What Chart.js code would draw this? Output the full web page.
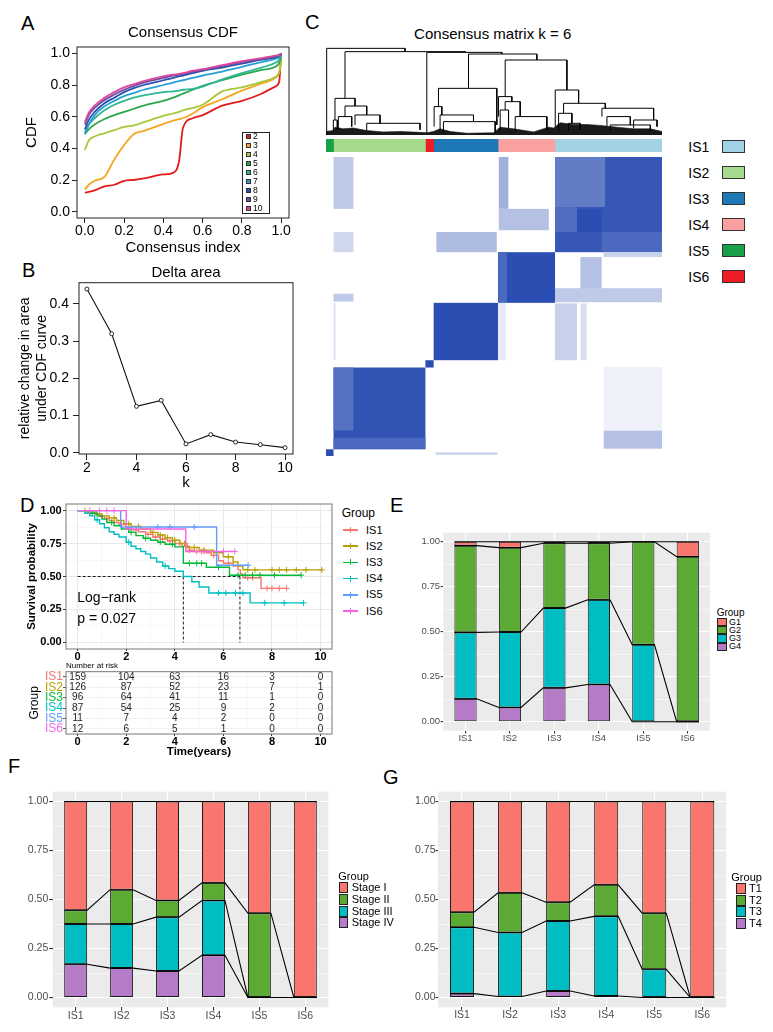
<!DOCTYPE html>
<html>
<head>
<meta charset="utf-8">
<script src="https://cdn.jsdelivr.net/npm/chart.js@4.4.1/dist/chart.umd.min.js"></script>
<style>
body{margin:0;background:#fff;width:773px;height:1032px;position:relative;overflow:hidden;font-family:"Liberation Sans",Arial,sans-serif;}
canvas{position:absolute;}
.t{position:absolute;white-space:nowrap;line-height:1;color:#000;}
.k{position:absolute;box-sizing:border-box;}
</style>
</head>
<body>
<script>
/* ---------- data ---------- */

// A: consensus CDF
const cdfIndex = [0,0.02,0.05,0.1,0.15,0.2,0.25,0.3,0.4,0.45,0.48,0.5,0.55,0.6,0.7,0.8,0.9,0.97,0.99,1];
const cdfK = ['2','3','4','5','6','7','8','9','10'];
const cdfColors = ['#E41A1C','#F5A623','#A6C93A','#2EA84A','#2DB894','#2A9FD6','#2B50B0','#6B4C9E','#E0459C'];
const cdfK2 = [0.12,0.125,0.135,0.16,0.17,0.195,0.2,0.21,0.235,0.245,0.32,0.53,0.59,0.61,0.67,0.70,0.745,0.79,0.82,1.0];
const cdfK3 = [0.14,0.17,0.195,0.22,0.33,0.42,0.49,0.51,0.555,0.575,0.585,0.59,0.62,0.66,0.71,0.765,0.81,0.845,0.88,0.97];
const cdfK4 = [0.39,0.45,0.475,0.495,0.515,0.535,0.545,0.565,0.605,0.62,0.63,0.64,0.655,0.675,0.76,0.785,0.82,0.85,0.88,0.96];
const cdfK5 = [0.49,0.52,0.55,0.585,0.61,0.63,0.65,0.67,0.70,0.72,0.735,0.745,0.77,0.795,0.83,0.865,0.895,0.915,0.94,0.98];
const cdfK6 = [0.50,0.55,0.59,0.64,0.675,0.70,0.72,0.735,0.755,0.76,0.765,0.77,0.775,0.79,0.835,0.875,0.91,0.94,0.96,0.99];
const cdfK7 = [0.49,0.55,0.61,0.665,0.70,0.73,0.75,0.77,0.80,0.815,0.825,0.83,0.845,0.86,0.885,0.915,0.945,0.965,0.975,0.99];
const cdfK8 = [0.52,0.58,0.63,0.685,0.72,0.755,0.78,0.80,0.83,0.845,0.855,0.86,0.875,0.89,0.91,0.935,0.96,0.975,0.985,0.995];
const cdfK9 = [0.55,0.61,0.655,0.705,0.74,0.77,0.795,0.815,0.845,0.86,0.865,0.87,0.885,0.895,0.92,0.945,0.965,0.98,0.99,1.0];
const cdfK10 = [0.565,0.625,0.67,0.72,0.755,0.785,0.805,0.825,0.855,0.865,0.87,0.875,0.89,0.90,0.925,0.95,0.97,0.985,0.99,1.0];
const cdfValues = [cdfK2,cdfK3,cdfK4,cdfK5,cdfK6,cdfK7,cdfK8,cdfK9,cdfK10];
const cdfTicks = [0,0.2,0.4,0.6,0.8,1.0];

// B: delta area
const deltaK = [2,3,4,5,6,7,8,9,10];
const deltaArea = [0.44,0.32,0.125,0.141,0.024,0.049,0.029,0.022,0.014];
const deltaXTicks = [2,4,6,8,10];
const deltaYTicks = [0,0.1,0.2,0.3,0.4];

// C: consensus matrix (sample index units, columns left to right, rows from bottom)
const icGroups = ['IS5','IS2','IS6','IS3','IS4','IS1'];
const icSizes = [11,134,12,94,83,156];
const icColors = ['#18A04A','#A6DA8C','#EE1C24','#1F78B6','#F9A0A0','#A3D2E6'];
const legendGroups = ['IS1','IS2','IS3','IS4','IS5','IS6'];
const legendColors = ['#A3D2E6','#A6DA8C','#1F78B6','#F9A0A0','#18A04A','#EE1C24'];
// [x0, x1, y0, y1, consensus]
const heatCells = [
  [0,11,0,11,1],[11,145,11,145,0.97],[11,40,42,145,0.8],[11,145,12,30,0.85],
  [145,157,145,157,1],[157,251,157,251,1],[251,334,251,334,1],[252,264,251,334,0.85],
  [334,490,334,490,0.95],[334,407,408,490,0.74],[334,366,367,408,0.82],[366,402,367,405,1],
  [402,490,334,367,0.85],
  [11,40,405,490,0.3],[11,40,334,367,0.22],[252,266,405,490,0.45],[252,325,370,405,0.35],
  [161,249,334,367,0.38],[371,402,266,326,0.35],[334,490,252,275,0.3],[405,490,326,334,0.25],
  [334,366,157,250,0.26],[371,380,157,250,0.18],[405,490,12,42,0.35],[405,490,42,146,0.08],
  [11,40,253,266,0.3],[252,262,157,251,0.12],[11,14,157,251,0.15],[160,250,2,6,0.25]
];
// dendrogram merges: [xLeft, xRight, height, leftChildHeight, rightChildHeight]
const dendroMerges = [
  [1.0,115.3,0.996,0,0.958],[27.7,202.9,0.958,0.421,0.950],[147,256.4,0.950,0.019,0.931],
  [207.8,307.5,0.931,0.536,0.862],[261.3,351.3,0.862,0.441,0.517],
  [13.1,42.3,0.421,0.172,0.333],[27.7,59.4,0.333,0.211,0.23],[18,37.5,0.211,0.077,0.096],
  [42.3,78.8,0.23,0.115,0.134],[59.4,137.2,0.134,0.05,0.06],[10.7,16.5,0.172,0.038,0.057],
  [164,249.1,0.536,0.326,0.115],[157.7,168.9,0.326,0.096,0.23],[166.4,215.1,0.23,0.057,0.153],
  [171.3,246.7,0.153,0.038,0.038],
  [251.6,271,0.441,0.211,0.383],[261.3,283.2,0.383,0.287,0.211],[254,266.2,0.287,0.057,0.077],
  [275.9,322.1,0.211,0.038,0.057],
  [334.3,368.4,0.517,0.096,0.364],[346.5,407.3,0.364,0.249,0.307],[402.4,477.8,0.307,0.211,0.172],
  [339.2,358.6,0.249,0.05,0.134],[353.7,370.8,0.134,0.05,0.057],[409.7,443.8,0.211,0.096,0.115],
  [448.6,482.7,0.172,0.077,0.096],[414.6,473,0.115,0.05,0.05]
];
const fringeX = [0,10.7,13.1,25.3,39.9,59.4,83.7,108,137.2,147,156.7,166.4,181,205.3,244.3,254,273.5,302.7,324.6,331.9,341.6,361,380.5,400,424.3,448.6,473,490];
const fringeH = [0.04,0.05,0.09,0.07,0.08,0.05,0.035,0.04,0.03,0.025,0.04,0.07,0.04,0.02,0.025,0.09,0.07,0.035,0.09,0.08,0.14,0.12,0.12,0.11,0.09,0.07,0.07,0.04];

// D: Kaplan-Meier
const kmGroups = ['IS1','IS2','IS3','IS4','IS5','IS6'];
const kmColors = ['#F8766D','#B79F00','#00BA38','#00BFC4','#619CFF','#F564E3'];
const is1Time = [0,0.3,0.5,0.7,0.9,1.1,1.3,1.5,1.7,2.0,2.2,2.5,2.8,3.1,3.4,3.7,4.0,4.3,4.6,4.8,5.3,5.5,5.8,6.0,6.4,6.6,6.7,6.8,7.55,8.6];
const is1Surv = [1,0.99,0.98,0.97,0.955,0.94,0.925,0.91,0.895,0.87,0.855,0.84,0.82,0.80,0.785,0.77,0.75,0.73,0.70,0.69,0.68,0.66,0.62,0.60,0.58,0.55,0.52,0.49,0.41,0.41];
const is2Time = [0,0.4,0.8,1.0,1.3,1.6,1.9,2.2,2.6,3.0,3.3,3.6,3.9,4.2,4.5,5.0,5.6,6.0,6.4,6.6,6.8,10.05];
const is2Surv = [1,0.99,0.975,0.96,0.945,0.925,0.90,0.88,0.86,0.835,0.815,0.795,0.775,0.75,0.72,0.70,0.68,0.65,0.61,0.58,0.55,0.55];
const is3Time = [0,0.5,0.8,1.0,1.2,1.5,1.8,2.1,2.4,2.7,3.0,3.3,3.6,4.0,4.35,5.3,6.25,9.2];
const is3Surv = [1,0.98,0.96,0.935,0.91,0.885,0.86,0.835,0.81,0.79,0.775,0.76,0.745,0.725,0.60,0.57,0.51,0.51];
const is4Time = [0,0.3,0.5,0.7,0.9,1.1,1.3,1.5,1.7,2.0,2.2,2.4,2.6,2.8,3.0,3.25,3.5,3.75,4.0,4.35,4.7,5.0,5.4,7.1,9.3];
const is4Surv = [1,0.98,0.96,0.93,0.90,0.87,0.84,0.82,0.80,0.76,0.73,0.71,0.69,0.67,0.64,0.61,0.58,0.56,0.54,0.50,0.46,0.42,0.375,0.30,0.30];
const is5Time = [0,1.77,5.72,7.02];
const is5Surv = [1,0.875,0.585,0.585];
const is6Time = [0,2.0,4.45,6.47];
const is6Surv = [1,0.86,0.69,0.69];
const kmTimes = [is1Time,is2Time,is3Time,is4Time,is5Time,is6Time];
const kmSurv = [is1Surv,is2Surv,is3Surv,is4Surv,is5Surv,is6Surv];
const censorTimes = [
  [0.5,1.2,1.8,2.4,2.9,3.2,3.5,3.8,4.2,4.6,4.9,5.1,5.6,6.2,7.0,7.2,7.8,8.0,8.3,8.6],
  [0.3,0.9,1.5,2.1,2.5,3.1,3.4,3.7,4.0,4.4,4.8,5.2,6.2,7.0,7.3,8.0,8.3,8.6,9.0,9.4,10.05],
  [0.6,1.4,2.2,2.8,3.4,3.9,4.6,4.9,5.1,5.8,6.6,6.9,7.2,7.5,8.1,9.2],
  [0.8,2.1,3.6,5.8,6.1,6.5,6.8,7.7,8.5,9.3],
  [3.3,3.8,4.8,7.02],
  [0.5,0.9,1.2,1.5,5.2,6.0,6.47]
];
const medianTimes = [4.35,6.68];
const kmXTicks = [0,1,2,3,4,5,6,7,8,9,10];
const kmYTicks = [0,0.125,0.25,0.375,0.5,0.625,0.75,0.875,1];
const riskTimes = [0,2,4,6,8,10];
const riskCounts = [
  [159,104,63,16,3,0],
  [126,87,52,23,7,1],
  [96,64,41,11,1,0],
  [87,54,25,9,2,0],
  [11,7,4,2,0,0],
  [12,6,5,1,0,0]
];

// E, F, G: composition bars (series listed bottom to top)
const barCats = ['IS1','IS2','IS3','IS4','IS5','IS6'];
const eNames = ['G4','G3','G2','G1'];
const eG4 = [0.127,0.079,0.188,0.207,0,0];
const eG3 = [0.369,0.419,0.443,0.470,0.428,0];
const eG2 = [0.482,0.469,0.360,0.314,0.572,0.917];
const eG1 = [0.022,0.033,0.009,0.009,0,0.083];
const fNames = ['Stage IV','Stage III','Stage II','Stage I'];
const fS4 = [0.17,0.15,0.135,0.215,0,0];
const fS3 = [0.205,0.225,0.275,0.28,0,0];
const fS2 = [0.07,0.175,0.085,0.09,0.43,0];
const fS1 = [0.555,0.45,0.505,0.415,0.57,1.0];
const gNames = ['T4','T3','T2','T1'];
const gT4 = [0.02,0.005,0.033,0.008,0,0];
const gT3 = [0.338,0.327,0.357,0.406,0.144,0];
const gT2 = [0.077,0.202,0.096,0.161,0.286,0];
const gT1 = [0.565,0.466,0.514,0.425,0.57,1.0];
const stackColors = ['#B57BC6','#00BDC4','#5AAA33','#F8766D'];
const propTicks = [0,0.125,0.25,0.375,0.5,0.625,0.75,0.875,1];

/* ---------- helpers ---------- */
const FONT = '"Liberation Sans", Arial, sans-serif';
Chart.defaults.font.family = FONT;
Chart.defaults.color = '#000';
Chart.defaults.animation = false;
Chart.defaults.events = [];
Chart.defaults.plugins.legend.display = false;
Chart.defaults.plugins.tooltip.enabled = false;

function addCanvas(left, top, w, h){
  const c = document.createElement('canvas');
  c.width = w; c.height = h;
  c.style.left = left + 'px'; c.style.top = top + 'px';
  c.style.width = w + 'px'; c.style.height = h + 'px';
  document.body.appendChild(c);
  return c;
}
function addText(txt, x, cy, size, extra){
  const d = document.createElement('div');
  d.className = 't';
  d.textContent = txt;
  d.style.fontSize = size + 'px';
  d.style.left = x + 'px';
  d.style.top = (cy - size/2) + 'px';
  d.style.height = size + 'px';
  if(extra) Object.assign(d.style, extra);
  document.body.appendChild(d);
  return d;
}
function addBox(x, y, w, h, color, border){
  const d = document.createElement('div');
  d.className = 'k';
  d.style.left = x + 'px'; d.style.top = y + 'px';
  d.style.width = w + 'px'; d.style.height = h + 'px';
  d.style.background = color;
  if(border) d.style.border = border;
  document.body.appendChild(d);
  return d;
}
function fixSize(px){
  return function(s){
    if(s.isHorizontal()) s.height = px; else s.width = px;
    s.paddingLeft = 0; s.paddingRight = 0; s.paddingTop = 0; s.paddingBottom = 0;
  };
}
function setTicks(values){
  return function(s){ s.ticks = values.map(v => ({value: v})); };
}
function survAt(times, surv, t){
  let s = 1;
  for(let i = 0; i < times.length; i++){ if(times[i] <= t) s = surv[i]; }
  return s;
}

const boxPlugin = {
  id: 'box',
  afterDraw(chart, args, o){
    if(!o.color) return;
    const a = chart.chartArea, ctx = chart.ctx;
    ctx.save();
    ctx.strokeStyle = o.color; ctx.lineWidth = o.width || 1;
    ctx.strokeRect(a.left, a.top, a.right - a.left, a.bottom - a.top);
    ctx.restore();
  }
};
const panelBg = {
  id: 'panelBg',
  beforeDraw(chart, args, o){
    if(!o.color) return;
    const a = chart.chartArea, ctx = chart.ctx;
    ctx.save(); ctx.fillStyle = o.color;
    ctx.fillRect(a.left, a.top, a.right - a.left, a.bottom - a.top);
    ctx.restore();
  }
};

/* ---------- panel letters and free text ---------- */
[['A',21,22.5],['B',22,269.5],['C',305,21.5],['D',20,505],['E',390,505],['F',8,765.5],['G',383,776.5]]
  .forEach(l => addText(l[0], l[1], l[2], 20));

/* ---------- A ---------- */
new Chart(addCanvas(0, 10, 300, 250), {
  type: 'line',
  data: { datasets: cdfK.map((k, i) => ({
    label: k,
    data: cdfIndex.map((x, j) => ({x: x, y: cdfValues[i][j]})),
    borderColor: cdfColors[i], borderWidth: 1.8, pointRadius: 0,
    cubicInterpolationMode: 'monotone'
  })).reverse() },
  options: {
    responsive: false,
    layout: { padding: {left: 0, right: 11, top: 0, bottom: 0}, autoPadding: false },
    plugins: {
      title: { display: true, text: 'Consensus CDF', fullSize: false, font: {size: 15, weight: 'normal'}, padding: {top: 14, bottom: 5} },
      box: { color: '#222', width: 1 }
    },
    scales: {
      x: { type: 'linear', min: -0.04, max: 1.04, afterBuildTicks: setTicks(cdfTicks),
        ticks: { callback: v => v.toFixed(1), font: {size: 14, lineHeight: 1}, padding: 1, maxRotation: 0, autoSkip: false },
        grid: { drawOnChartArea: false, drawTicks: true, tickLength: 5, color: '#222' },
        border: { display: false },
        title: { display: true, text: 'Consensus index', font: {size: 15}, padding: {top: 0, bottom: 3} },
        afterFit: fixSize(42) },
      y: { type: 'linear', min: -0.04, max: 1.04, afterBuildTicks: setTicks(cdfTicks),
        ticks: { callback: v => v.toFixed(1), font: {size: 14, lineHeight: 1}, padding: 2, autoSkip: false },
        grid: { drawOnChartArea: false, drawTicks: true, tickLength: 5, color: '#222' },
        border: { display: false },
        title: { display: true, text: 'CDF', font: {size: 15}, padding: {top: 23, bottom: 0} },
        afterFit: fixSize(77) }
    }
  },
  plugins: [boxPlugin]
});
// A legend
(function(){
  addBox(241.7, 131.7, 28.3, 82.3, '#fff', '1px solid #222');
  cdfK.forEach((k, i) => {
    const cy = 136.7 + i * 8.95;
    addBox(245.7, cy - 2.5, 5, 5, cdfColors[i], '0.8px solid #333');
    addText(k, 253, cy, 8.5);
  });
})();

/* ---------- B ---------- */
const dMinX = Math.min(...deltaK), dMaxX = Math.max(...deltaK);
const dMinY = Math.min(...deltaArea), dMaxY = Math.max(...deltaArea);
new Chart(addCanvas(0, 262, 305, 230), {
  type: 'line',
  data: { datasets: [{
    data: deltaK.map((k, i) => ({x: k, y: deltaArea[i]})),
    borderColor: '#111', borderWidth: 1.1,
    pointRadius: 2, pointBorderWidth: 0.9, pointBackgroundColor: '#fff', pointBorderColor: '#111'
  }] },
  options: {
    responsive: false,
    layout: { padding: {left: 0, right: 12, top: 0, bottom: 0}, autoPadding: false },
    plugins: {
      title: { display: true, text: 'Delta area', fullSize: false, font: {size: 15, weight: 'normal'}, padding: {top: 2, bottom: 0.7} },
      box: { color: '#222', width: 1 }
    },
    scales: {
      x: { type: 'linear', min: dMinX - 0.04 * (dMaxX - dMinX), max: dMaxX + 0.04 * (dMaxX - dMinX), afterBuildTicks: setTicks(deltaXTicks),
        ticks: { font: {size: 14, lineHeight: 1}, padding: 1, maxRotation: 0, autoSkip: false },
        grid: { drawOnChartArea: false, drawTicks: true, tickLength: 6, color: '#222' },
        border: { display: false },
        title: { display: true, text: 'k', font: {size: 15}, padding: {top: 0, bottom: 0} },
        afterFit: fixSize(38) },
      y: { type: 'linear', min: dMinY - 0.04 * (dMaxY - dMinY), max: dMaxY + 0.04 * (dMaxY - dMinY), afterBuildTicks: setTicks(deltaYTicks),
        ticks: { callback: v => v.toFixed(1), font: {size: 14, lineHeight: 1}, padding: 4, autoSkip: false },
        grid: { drawOnChartArea: false, drawTicks: true, tickLength: 6, color: '#222' },
        border: { display: false },
        title: { display: true, text: ['relative change in area', 'under CDF curve'], font: {size: 14, lineHeight: 1.2}, padding: {top: 16.6, bottom: 0} },
        afterFit: fixSize(79) }
    }
  },
  plugins: [boxPlugin]
});

/* ---------- C ---------- */
addText('Consensus matrix k = 6', 492.7, 33.3, 15, {transform: 'translateX(-50%)'});
const icTotal = icSizes.reduce((a, b) => a + b, 0);
// dendrogram
const dendroPts = [];
dendroMerges.forEach(m => {
  dendroPts.push({x: m[0], y: m[3]}, {x: m[0], y: m[2]}, {x: m[1], y: m[2]}, {x: m[1], y: m[4]}, {x: m[1], y: null});
});
new Chart(addCanvas(326, 46, 336, 90), {
  type: 'line',
  data: { datasets: [
    { data: dendroPts, borderColor: '#000', borderWidth: 1, pointRadius: 0, spanGaps: false },
    { data: fringeX.map((x, i) => ({x: x, y: fringeH[i]})), borderColor: '#111', borderWidth: 0.6,
      backgroundColor: '#1a1a1a', fill: 'origin', pointRadius: 0 }
  ] },
  options: {
    responsive: false,
    layout: { padding: 0, autoPadding: false },
    scales: {
      x: { type: 'linear', display: false, min: 0, max: icTotal },
      y: { type: 'linear', display: false, min: -0.012, max: 1.023 }
    }
  }
});
// class colour bar
new Chart(addCanvas(326, 139.3, 336, 12.4), {
  type: 'bar',
  data: { labels: [''], datasets: icGroups.map((g, i) => ({
    label: g, data: [icSizes[i]], backgroundColor: icColors[i], borderWidth: 0,
    barPercentage: 1, categoryPercentage: 1
  })) },
  options: {
    responsive: false, indexAxis: 'y',
    layout: { padding: 0, autoPadding: false },
    scales: {
      x: { type: 'linear', display: false, stacked: true, min: 0, max: icTotal },
      y: { display: false, stacked: true }
    }
  }
});
// heatmap
const heatPlugin = {
  id: 'heat',
  beforeDatasetsDraw(chart){
    const {ctx, scales: {x, y}} = chart;
    ctx.save();
    heatCells.forEach(c => {
      const v = c[4];
      ctx.fillStyle = 'rgb(' + Math.round(255 - v * (255 - 43)) + ',' + Math.round(255 - v * (255 - 78)) + ',' + Math.round(255 - v * (255 - 178)) + ')';
      const x0 = x.getPixelForValue(c[0]), x1 = x.getPixelForValue(c[1]);
      const y0 = y.getPixelForValue(c[2]), y1 = y.getPixelForValue(c[3]);
      ctx.fillRect(x0, y1, x1 - x0, y0 - y1);
    });
    ctx.restore();
  }
};
new Chart(addCanvas(326, 157, 336, 299), {
  type: 'scatter',
  data: { datasets: [] },
  options: {
    responsive: false,
    layout: { padding: 0, autoPadding: false },
    scales: {
      x: { type: 'linear', display: false, min: 0, max: icTotal },
      y: { type: 'linear', display: false, min: 0, max: icTotal }
    }
  },
  plugins: [heatPlugin]
});
// C legend
legendGroups.forEach((g, i) => {
  const cy = 146.7 + i * 26;
  addText(g, 688.3, cy, 14);
  addBox(721.7, cy - 6.7, 23.3, 13.4, legendColors[i], '1px solid #333');
});

/* ---------- D ---------- */
const kmDatasets = [];
kmGroups.forEach((g, i) => {
  kmDatasets.push({
    type: 'line', label: g,
    data: kmTimes[i].map((t, j) => ({x: t, y: kmSurv[i][j]})),
    borderColor: kmColors[i], borderWidth: 1.4, pointRadius: 0, stepped: true
  });
  kmDatasets.push({
    type: 'scatter',
    data: censorTimes[i].map(t => ({x: t, y: survAt(kmTimes[i], kmSurv[i], t)})),
    borderColor: kmColors[i], pointStyle: 'cross', pointRadius: 3, pointBorderWidth: 1
  });
});
kmDatasets.reverse();
kmDatasets.push(
  { type: 'line', data: [{x: 0, y: 0.5}, {x: medianTimes[1], y: 0.5}], borderColor: '#000', borderWidth: 0.9, borderDash: [3, 2], pointRadius: 0 },
  { type: 'line', data: [{x: medianTimes[0], y: 0.5}, {x: medianTimes[0], y: 0}], borderColor: '#000', borderWidth: 0.9, borderDash: [3, 2], pointRadius: 0 },
  { type: 'line', data: [{x: medianTimes[1], y: 0.5}, {x: medianTimes[1], y: 0}], borderColor: '#000', borderWidth: 0.9, borderDash: [3, 2], pointRadius: 0 }
);
const kmMajorX = v => v % 2 === 0;
const kmMajorY = v => Math.abs(v * 4 - Math.round(v * 4)) < 1e-9;
new Chart(addCanvas(0, 495, 340, 168), {
  type: 'line',
  data: { datasets: kmDatasets },
  options: {
    responsive: false,
    layout: { padding: {left: 0, right: 8, top: 9, bottom: 0}, autoPadding: false },
    plugins: { box: { color: '#777', width: 1 } },
    scales: {
      x: { type: 'linear', min: -0.48, max: 10.47, afterBuildTicks: setTicks(kmXTicks),
        ticks: { callback: v => kmMajorX(v) ? String(v) : '', font: {size: 11, weight: 'bold', lineHeight: 1}, padding: 0, maxRotation: 0, autoSkip: false },
        grid: { color: c => kmMajorX(c.tick.value) ? '#E8E8E8' : '#F4F4F4', lineWidth: c => kmMajorX(c.tick.value) ? 1 : 0.6,
          tickColor: c => kmMajorX(c.tick.value) ? '#333' : 'rgba(0,0,0,0)', tickLength: 2, drawTicks: true },
        border: { display: false },
        afterFit: fixSize(14) },
      y: { type: 'linear', min: -0.05, max: 1.05, afterBuildTicks: setTicks(kmYTicks),
        ticks: { callback: v => kmMajorY(v) ? v.toFixed(2) : '', font: {size: 11, weight: 'bold', lineHeight: 1}, padding: 1.3, autoSkip: false },
        grid: { color: c => kmMajorY(c.tick.value) ? '#E8E8E8' : '#F4F4F4', lineWidth: c => kmMajorY(c.tick.value) ? 1 : 0.6,
          tickColor: c => kmMajorY(c.tick.value) ? '#333' : 'rgba(0,0,0,0)', tickLength: 3, drawTicks: true },
        border: { display: false },
        title: { display: true, text: 'Survival probability', font: {size: 11.5, weight: 'bold'}, padding: {top: 24.8, bottom: 0} },
        afterFit: fixSize(66) }
    }
  },
  plugins: [boxPlugin]
});
addText('Log\u2212rank', 77.3, 596.7, 14);
addText('p = 0.027', 77.3, 617.7, 14);
addText('Number at risk', 66, 665.5, 8);
// D legend
addText('Group', 341.7, 512.7, 12);
kmGroups.forEach((g, i) => {
  const cy = 530 + i * 16.2;
  addBox(343, cy - 0.8, 15, 1.6, kmColors[i]);
  addBox(350, cy - 3, 1.2, 6, kmColors[i]);
  addText(g, 366, cy, 11);
});
// risk table
const riskPlugin = {
  id: 'riskText',
  afterDatasetsDraw(chart){
    const {ctx, scales: {x, y}} = chart;
    ctx.save();
    ctx.font = '10px ' + FONT;
    ctx.fillStyle = '#222'; ctx.textAlign = 'center'; ctx.textBaseline = 'middle';
    riskCounts.forEach((row, g) => row.forEach((n, j) => {
      ctx.fillText(String(n), x.getPixelForValue(riskTimes[j]), y.getPixelForValue(g));
    }));
    ctx.restore();
  }
};
new Chart(addCanvas(0, 662, 340, 100), {
  type: 'scatter',
  data: { datasets: [] },
  options: {
    responsive: false,
    layout: { padding: {left: 0, right: 8, top: 9.7, bottom: 0}, autoPadding: false },
    plugins: { box: { color: '#777', width: 1 } },
    scales: {
      x: { type: 'linear', min: -0.48, max: 10.47, afterBuildTicks: setTicks(kmXTicks),
        ticks: { callback: v => kmMajorX(v) ? String(v) : '', font: {size: 11, weight: 'bold', lineHeight: 1}, padding: 0, maxRotation: 0, autoSkip: false },
        grid: { color: c => kmMajorX(c.tick.value) ? '#EDEDED' : '#F6F6F6', lineWidth: c => kmMajorX(c.tick.value) ? 1 : 0.6,
          tickColor: c => kmMajorX(c.tick.value) ? '#333' : 'rgba(0,0,0,0)', tickLength: 2, drawTicks: true },
        border: { display: false },
        title: { display: true, text: 'Time(years)', font: {size: 11.5, weight: 'bold'}, padding: {top: 0, bottom: 2.8} },
        afterFit: fixSize(28) },
      y: { type: 'category', labels: kmGroups, offset: true,
        ticks: { font: {size: 12, lineHeight: 1}, padding: 0, color: c => kmColors[c.index], autoSkip: false },
        grid: { color: '#EDEDED', lineWidth: 0.8, tickColor: '#333', tickLength: 3, drawTicks: true },
        border: { display: false },
        title: { display: true, text: 'Group', font: {size: 12}, padding: {top: 27.8, bottom: 0} },
        afterFit: fixSize(66) }
    }
  },
  plugins: [riskPlugin, boxPlugin]
});

/* ---------- E, F, G ---------- */
const propMajor = v => Math.abs(v * 4 - Math.round(v * 4)) < 1e-9;
function stackChart(o){
  const cum = [];
  let run = barCats.map(() => 0);
  o.series.forEach(s => { run = run.map((r, i) => r + s[i]); cum.push(run.slice()); });
  const bars = o.series.map((s, k) => ({
    type: 'bar', label: o.names[k], data: s, grouped: false,
    backgroundColor: stackColors[k], borderColor: '#1a1a1a', borderWidth: 1, borderSkipped: false,
    barPercentage: 0.5, categoryPercentage: 1, order: 1, xAxisID: 'x', yAxisID: 'y'
  }));
  // boundary lines joining the same cumulative level of neighbouring bars
  const lines = cum.map(cv => ({
    type: 'line',
    data: cv.flatMap((v, i) => [{x: i - 0.25, y: v}, {x: i + 0.25, y: v}]),
    borderColor: '#000', borderWidth: 1.1, pointRadius: 0, order: 0, xAxisID: 'xl', yAxisID: 'yl'
  }));
  new Chart(addCanvas(o.left, o.top, o.w, o.h), {
    type: 'bar',
    data: { labels: barCats, datasets: bars.concat(lines) },
    options: {
      responsive: false,
      layout: { padding: {left: 0, right: o.padRight, top: o.padTop, bottom: 0}, autoPadding: false },
      plugins: { panelBg: { color: '#EBEBEB' } },
      scales: {
        x: { type: 'category', stacked: true, offset: true,
          ticks: { font: {size: o.font, lineHeight: 1}, color: '#4D4D4D', padding: 0, maxRotation: 0, autoSkip: false },
          grid: { offset: false, color: '#fff', lineWidth: 1.1, tickColor: '#333', tickLength: o.tl, drawTicks: true },
          border: { display: false },
          afterFit: fixSize(o.hx) },
        xl: { type: 'linear', display: false, offset: false, grid: { offset: false }, min: -0.5, max: barCats.length - 0.5 },
        y: { type: 'linear', stacked: true, min: -0.05, max: 1.05, afterBuildTicks: setTicks(propTicks),
          ticks: { callback: v => propMajor(v) ? v.toFixed(2) : '', font: {size: o.font, lineHeight: 1}, color: '#4D4D4D', padding: o.tp, autoSkip: false },
          grid: { color: '#fff', lineWidth: c => propMajor(c.tick.value) ? 1.1 : 0.55,
            tickColor: c => propMajor(c.tick.value) ? '#333' : 'rgba(0,0,0,0)', tickLength: o.tl, drawTicks: true },
          border: { display: false },
          afterFit: fixSize(o.wy) },
        yl: { type: 'linear', display: false, min: -0.05, max: 1.05 }
      }
    },
    plugins: [panelBg]
  });
  // legend, top item is the top of the stack
  addText('Group', o.lgX, o.lgY, o.lgFont);
  for(let k = o.names.length - 1, r = 0; k >= 0; k--, r++){
    const cy = o.lgY0 + r * o.lgDy;
    addBox(o.lgBoxX, cy - o.lgBh / 2, o.lgBw, o.lgBh, stackColors[k], '1px solid #222');
    addText(o.names[k], o.lgTextX, cy, o.lgItemFont);
  }
}
stackChart({ series: [eG4, eG3, eG2, eG1], names: eNames,
  left: 400, top: 525, w: 315, h: 225, padRight: 5, padTop: 7.7, wy: 43.3, hx: 19.3, font: 9.5, tl: 2.7, tp: 0.6,
  lgX: 716.7, lgY: 612.7, lgFont: 10, lgItemFont: 9, lgY0: 622.3, lgDy: 8.1, lgBoxX: 716.7, lgBw: 10, lgBh: 8.1, lgTextX: 729 });
stackChart({ series: [fS4, fS3, fS2, fS1], names: fNames,
  left: 0, top: 785, w: 335, h: 247, padRight: 6.7, padTop: 6.7, wy: 52.7, hx: 24.7, font: 10.5, tl: 3.5, tp: 0.9,
  lgX: 338.3, lgY: 876, lgFont: 11, lgItemFont: 11, lgY0: 887.7, lgDy: 11.7, lgBoxX: 338.5, lgBw: 9.5, lgBh: 11, lgTextX: 351.7 });
stackChart({ series: [gT4, gT3, gT2, gT1], names: gNames,
  left: 390, top: 785, w: 341, h: 247, padRight: 4.7, padTop: 6.7, wy: 48, hx: 24.7, font: 10.5, tl: 2.5, tp: 0,
  lgX: 731.3, lgY: 877.3, lgFont: 11, lgItemFont: 11, lgY0: 888.3, lgDy: 11.7, lgBoxX: 736.3, lgBw: 9.5, lgBh: 11, lgTextX: 749 });
</script>
</body>
</html>
